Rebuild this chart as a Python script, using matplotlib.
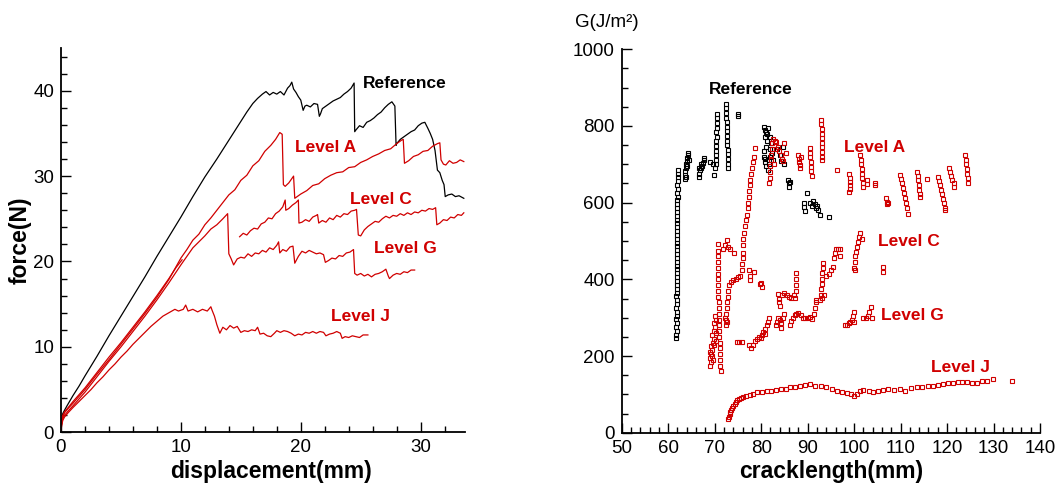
import numpy as np
import matplotlib
matplotlib.use("Agg")
import matplotlib.pyplot as plt
from matplotlib.ticker import MultipleLocator

plt.rcParams['font.family'] = ['Liberation Sans', 'DejaVu Sans']

RED = '#d00000'

###################
    #FORCE CURVES#
###################

# (displacement mm, force N)
ref_fd = [(0, 0), (0.05, 1.2), (0.15, 2.2), (0.3, 2.6), (0.5, 3.1), (1.0, 4.3), (1.5, 5.4), (2.0, 6.6),
          (3.0, 8.9), (4.0, 11.3), (5.0, 13.6), (6.0, 15.9), (7.0, 18.2), (8.0, 20.6), (9.0, 22.9),
          (10.0, 25.2), (11.0, 27.6), (12.0, 29.9), (13.0, 32.0), (14.0, 34.2), (14.5, 35.3), (15.0, 36.4),
          (15.5, 37.5), (16.0, 38.5), (16.4, 39.1), (16.8, 39.6), (17.1, 39.9), (17.4, 39.5), (17.7, 39.8),
          (18.0, 39.6), (18.3, 39.9), (18.6, 39.5), (18.9, 40.3), (19.1, 40.6), (19.25, 41.0), (19.4, 40.2),
          (19.6, 39.8), (19.8, 39.3), (20.0, 38.9), (20.2, 37.7), (20.35, 38.2), (20.5, 38.3), (20.8, 38.1),
          (21.1, 38.5), (21.4, 38.4), (21.55, 37.0), (21.65, 37.3), (21.8, 37.9), (22.1, 38.2), (22.4, 38.5),
          (22.7, 38.8), (23.0, 39.0), (23.3, 39.2), (23.6, 39.6), (23.9, 39.9), (24.2, 40.3), (24.45, 40.9),
          (24.5, 35.2), (24.6, 35.4), (24.9, 35.9), (25.2, 35.7), (25.5, 36.3), (25.8, 36.5), (26.1, 36.8),
          (26.4, 37.2), (26.7, 37.5), (27.0, 38.0), (27.3, 38.4), (27.6, 38.7), (27.85, 38.2), (27.95, 33.6),
          (28.0, 33.8), (28.3, 34.3), (28.6, 34.6), (28.9, 34.9), (29.2, 35.2), (29.5, 35.4), (29.8, 35.9),
          (30.1, 36.2), (30.35, 36.3), (30.6, 35.6), (30.8, 35.0), (31.0, 34.3), (31.2, 33.0), (31.4, 30.7),
          (31.6, 30.4), (31.8, 29.5), (31.95, 29.0), (32.05, 27.6), (32.3, 27.8), (32.6, 27.9), (32.9, 27.6),
          (33.2, 27.7), (33.6, 27.4)]

levA_fd = [(0, 0), (0.05, 1.0), (0.15, 1.8), (0.3, 2.3), (0.6, 2.8), (1.0, 3.4), (1.5, 4.2), (2.0, 5.0),
           (3.0, 6.8), (4.0, 8.5), (5.0, 10.3), (6.0, 12.1), (7.0, 13.9), (8.0, 15.8), (9.0, 17.9),
           (10.0, 20.4), (10.5, 21.4), (11.0, 22.5), (11.5, 23.2), (12.0, 24.3), (12.5, 25.1), (13.0, 26.0),
           (13.5, 26.9), (14.0, 27.8), (14.5, 28.4), (15.0, 29.5), (15.5, 30.1), (16.0, 31.2), (16.5, 31.8),
           (17.0, 32.9), (17.5, 33.6), (17.9, 34.3), (18.25, 35.1), (18.45, 34.9), (18.55, 29.0), (18.7, 28.8),
           (19.0, 29.2), (19.3, 29.8), (19.4, 30.0), (19.5, 27.4), (19.7, 27.6), (20.0, 27.9), (20.5, 28.3),
           (21.0, 28.9), (21.5, 29.1), (22.0, 29.7), (22.5, 30.1), (23.0, 30.4), (23.5, 30.5), (24.0, 31.0),
           (24.5, 31.1), (25.0, 31.6), (25.5, 31.9), (26.0, 32.3), (26.5, 32.6), (27.0, 33.0), (27.5, 33.2),
           (28.0, 33.8), (28.4, 34.2), (28.55, 34.3), (28.65, 31.5), (29.0, 31.8), (29.4, 32.3), (29.8, 32.5),
           (30.2, 32.9), (30.6, 33.0), (31.0, 33.5), (31.4, 33.8), (31.6, 33.9), (31.7, 31.9), (31.9, 31.4),
           (32.1, 31.3), (32.4, 31.8), (32.7, 31.5), (33.0, 31.6), (33.3, 31.9), (33.6, 31.7)]

# loading branch, then the recorded part after the gap
levC_fd = [(0, 0), (0.05, 1.4), (0.15, 2.0), (0.3, 2.4), (0.6, 2.9), (1.0, 3.6), (1.5, 4.4), (2.0, 5.2),
           (3.0, 7.0), (4.0, 8.8), (5.0, 10.5), (6.0, 12.3), (7.0, 14.1), (8.0, 16.0), (9.0, 18.0),
           (9.6, 19.3), (10.1, 20.2), (np.nan, np.nan),
           (14.9, 22.9), (15.2, 23.3), (15.5, 23.1), (15.8, 23.6), (16.1, 23.9), (16.4, 23.8), (16.7, 24.4),
           (17.0, 24.6), (17.3, 25.1), (17.6, 25.0), (17.9, 25.6), (18.2, 25.9), (18.5, 26.4), (18.7, 27.2),
           (18.75, 26.0), (19.0, 26.2), (19.3, 26.6), (19.6, 26.9), (19.8, 27.2), (19.85, 24.5), (20.1, 24.6),
           (20.4, 24.9), (20.7, 24.7), (21.0, 25.2), (21.3, 25.4), (21.4, 25.5), (21.5, 24.5), (21.8, 24.8),
           (22.1, 24.6), (22.4, 25.1), (22.7, 24.9), (23.0, 25.4), (23.3, 25.2), (23.6, 25.6), (23.9, 25.5),
           (24.2, 25.9), (24.5, 26.0), (24.65, 26.1), (24.8, 23.1), (25.0, 23.0), (25.3, 23.7), (25.6, 24.1),
           (25.9, 24.4), (26.2, 24.7), (26.5, 24.6), (26.8, 25.0), (27.1, 25.3), (27.4, 25.1), (27.7, 25.4),
           (28.0, 25.3), (28.3, 25.6), (28.6, 25.4), (28.9, 25.7), (29.2, 25.5), (29.5, 25.8), (29.8, 25.7),
           (30.1, 26.0), (30.4, 25.9), (30.7, 26.2), (31.0, 26.1), (31.25, 26.3), (31.35, 24.3), (31.6, 24.5),
           (31.9, 24.9), (32.2, 24.8), (32.5, 25.2), (32.8, 25.1), (33.1, 25.5), (33.4, 25.4), (33.6, 25.7)]

levG_fd = [(0, 0), (0.05, 0.9), (0.15, 1.6), (0.3, 2.0), (0.6, 2.5), (1.0, 3.1), (1.5, 3.9), (2.0, 4.7),
           (3.0, 6.5), (4.0, 8.3), (5.0, 10.0), (6.0, 11.8), (7.0, 13.6), (8.0, 15.5), (9.0, 17.5),
           (10.0, 19.6), (10.5, 20.6), (11.0, 21.6), (11.5, 22.3), (12.0, 23.0), (12.5, 23.8), (13.0, 24.3),
           (13.5, 25.0), (13.9, 25.6), (14.0, 20.9), (14.2, 20.3), (14.4, 19.6), (14.7, 20.3), (15.0, 20.5),
           (15.3, 20.4), (15.6, 20.9), (15.9, 20.6), (16.2, 21.0), (16.5, 20.9), (16.8, 21.3), (17.1, 21.1),
           (17.4, 21.6), (17.7, 21.4), (18.0, 21.9), (18.15, 22.3), (18.25, 21.0), (18.5, 21.4), (18.8, 21.2),
           (19.1, 21.7), (19.35, 21.8), (19.5, 19.8), (19.8, 20.6), (20.1, 21.2), (20.4, 21.0), (20.7, 21.3),
           (21.0, 21.1), (21.3, 20.9), (21.6, 21.0), (21.9, 20.8), (22.05, 19.9), (22.3, 20.1), (22.6, 20.4),
           (22.9, 20.3), (23.2, 20.7), (23.5, 20.6), (23.8, 21.0), (24.1, 21.1), (24.4, 21.4), (24.5, 18.6),
           (24.7, 18.4), (25.0, 18.6), (25.3, 18.3), (25.6, 18.5), (25.9, 18.2), (26.2, 18.5), (26.5, 18.6),
           (26.8, 18.8), (27.1, 19.1), (27.3, 18.3), (27.4, 18.0), (27.7, 18.4), (28.0, 18.6), (28.3, 18.5),
           (28.6, 18.8), (28.9, 18.7), (29.2, 19.0), (29.5, 19.0)]

levJ_fd = [(0, 0), (0.05, 0.8), (0.15, 1.4), (0.3, 1.8), (0.6, 2.3), (1.0, 2.9), (1.5, 3.6), (2.0, 4.3),
           (2.5, 5.0), (3.0, 5.8), (3.5, 6.5), (4.0, 7.3), (4.5, 8.0), (5.0, 8.8), (5.5, 9.5), (6.0, 10.3),
           (6.5, 11.0), (7.0, 11.7), (7.5, 12.4), (8.0, 13.0), (8.5, 13.6), (9.0, 14.0), (9.5, 14.4),
           (9.8, 14.2), (10.2, 14.4), (10.4, 14.9), (10.6, 14.2), (11.0, 14.4), (11.4, 14.1), (11.8, 14.4),
           (12.2, 14.2), (12.5, 14.7), (12.6, 14.3), (12.8, 13.6), (13.0, 12.6), (13.25, 11.6), (13.5, 12.3),
           (13.8, 12.0), (14.1, 12.5), (14.4, 12.2), (14.7, 12.4), (15.0, 11.7), (15.3, 11.9), (15.6, 11.8),
           (15.9, 12.0), (16.2, 11.9), (16.4, 12.3), (16.6, 11.5), (16.9, 11.6), (17.2, 11.3), (17.5, 11.2),
           (17.8, 11.6), (18.0, 11.9), (18.3, 11.7), (18.6, 11.9), (18.9, 11.8), (19.2, 11.6), (19.5, 11.3),
           (19.8, 11.5), (20.1, 11.4), (20.4, 11.7), (20.7, 11.6), (21.0, 11.8), (21.3, 11.6), (21.6, 11.8),
           (21.9, 11.7), (22.1, 11.3), (22.4, 11.5), (22.7, 11.6), (23.0, 11.8), (23.3, 11.6), (23.45, 11.0),
           (23.7, 11.2), (24.0, 11.1), (24.3, 11.3), (24.6, 11.2), (24.9, 11.1), (25.2, 11.4), (25.6, 11.4)]

#######################
    #R-CURVE POINTS#
#######################

# (crack length mm, G J/m2)
ref_g = [(61.7, 246), (61.7, 255), (61.8, 265), (61.7, 275), (61.8, 285), (61.7, 296), (61.8, 305),
         (61.8, 315), (61.7, 326), (61.8, 335), (61.8, 346), (61.7, 356), (61.8, 365), (61.9, 376),
         (61.8, 386), (61.8, 396), (61.9, 405), (61.8, 416), (61.8, 426), (61.9, 436), (61.8, 446),
         (61.9, 456), (61.8, 466), (61.9, 476), (61.9, 486), (61.8, 496), (61.9, 506), (62.0, 516),
         (61.9, 526), (61.9, 536), (62.0, 546), (61.9, 556), (62.0, 566), (62.0, 576), (61.9, 586),
         (62.0, 596), (62.0, 606), (62.1, 616), (62.0, 626), (62.1, 636), (62.0, 646), (62.1, 656),
         (62.1, 666), (62.1, 676), (62.1, 684),
         (63.6, 662), (63.7, 672), (63.6, 683), (63.8, 690), (63.9, 700), (64.0, 708), (64.1, 716),
         (64.2, 724), (64.3, 730), (64.0, 695), (64.4, 712), (63.8, 668),
         (66.6, 668), (66.7, 676), (66.8, 684), (67.0, 690), (67.2, 696), (67.4, 704), (67.6, 710),
         (67.8, 716), (67.0, 700), (66.7, 690),
         (69.0, 707), (69.9, 672), (69.6, 700),
         (70.1, 690), (70.2, 700), (70.2, 712), (70.3, 724), (70.2, 736), (70.3, 748), (70.3, 760),
         (70.4, 772), (70.3, 784), (70.4, 796), (70.4, 808), (70.4, 820), (70.4, 832),
         (72.9, 690), (72.9, 702), (72.8, 714), (72.8, 726), (72.8, 738), (72.7, 750), (72.7, 762),
         (72.7, 774), (72.6, 786), (72.6, 798), (72.6, 810), (72.5, 822), (72.5, 834), (72.5, 846),
         (72.5, 857), (75.0, 831), (75.1, 826),
         (80.6, 798), (80.8, 790), (81.0, 785), (80.9, 772), (81.2, 780), (81.5, 795), (81.3, 760),
         (81.0, 745), (80.7, 735), (80.6, 720), (80.8, 705), (81.1, 695), (81.4, 684), (81.6, 700),
         (81.8, 720), (82.0, 740), (82.2, 755), (81.9, 770), (82.3, 730), (82.6, 712), (80.9, 715),
         (83.5, 740), (84.0, 725), (84.3, 708), (84.6, 745), (85.0, 700), (85.7, 660), (86.0, 650),
         (86.3, 655), (85.9, 642), (89.8, 624), (89.2, 600), (89.3, 588), (89.5, 578), (90.6, 598),
         (90.9, 590), (91.2, 605), (91.5, 596), (91.8, 585), (92.0, 592), (92.3, 580), (92.7, 568),
         (94.7, 562)]

levA_g = [(69.0, 175), (69.2, 185), (69.0, 195), (69.3, 205), (69.5, 215), (69.2, 225), (69.6, 235),
          (69.8, 245), (69.5, 255), (69.9, 265), (70.1, 275), (69.8, 285), (70.2, 295), (70.0, 305),
          (69.4, 200), (69.7, 190), (69.9, 230), (70.2, 260), (70.3, 240), (69.1, 210),
          (71.3, 160), (71.2, 175), (71.2, 190), (71.1, 205), (71.1, 220), (71.1, 235), (71.0, 250),
          (71.0, 265), (71.0, 280), (70.9, 295), (70.9, 310), (70.9, 325), (70.9, 340), (70.8, 355),
          (70.8, 370), (70.8, 385), (70.8, 400), (70.7, 415), (70.7, 430), (70.7, 445), (70.7, 460),
          (70.7, 475), (70.7, 492),
          (71.8, 480), (72.3, 490), (72.6, 503), (72.9, 485), (73.2, 478), (74.2, 468),
          (72.4, 280), (72.5, 295), (72.5, 310), (72.6, 325), (72.7, 340), (72.8, 355), (72.9, 370),
          (73.0, 385), (72.3, 300), (72.6, 290),
          (73.5, 392), (74.0, 398), (74.5, 402), (75.0, 405), (75.5, 410), (75.8, 425), (75.9, 440),
          (76.0, 455), (76.1, 470), (76.2, 490), (76.2, 505), (76.3, 520), (76.6, 540), (76.8, 555),
          (76.9, 568), (77.1, 585), (77.2, 600), (77.3, 615), (77.4, 630), (77.5, 645), (77.6, 660),
          (77.8, 675), (78.0, 690), (78.2, 705), (78.4, 720), (78.6, 742),
          (81.7, 650), (81.8, 665), (81.9, 680), (82.0, 695), (82.1, 710), (82.2, 725), (82.3, 740),
          (82.4, 755), (82.6, 765), (83.0, 762), (83.3, 758), (83.6, 745), (83.9, 735), (84.2, 725),
          (84.4, 715), (84.6, 708), (85.0, 755), (85.3, 730), (83.2, 740), (82.8, 700),
          (88.0, 724), (88.1, 715), (88.2, 706), (88.3, 698), (88.4, 690), (88.6, 718),
          (90.5, 742), (90.6, 730), (90.6, 718), (90.7, 706), (90.7, 694), (90.8, 682), (90.9, 670),
          (92.9, 816), (92.9, 804), (93.0, 792), (93.0, 780), (93.0, 768), (93.1, 756), (93.1, 744),
          (93.1, 732), (93.2, 720), (93.2, 711), (96.3, 685),
          (99.0, 675), (99.1, 665), (99.1, 655), (99.2, 645), (99.2, 635), (99.0, 629),
          (101.3, 724), (101.4, 712), (101.5, 700), (101.6, 688), (101.7, 676), (101.8, 664),
          (101.9, 652), (102.0, 640), (102.7, 659), (102.8, 648), (104.5, 652), (104.6, 646),
          (106.9, 611), (107.0, 603), (107.1, 596), (107.4, 600),
          (109.9, 672), (110.1, 662), (110.4, 650), (110.6, 638), (110.8, 625), (111.0, 612),
          (111.2, 598), (111.4, 585), (111.6, 570),
          (113.6, 681), (113.7, 670), (113.8, 658), (113.9, 646), (114.0, 634), (114.1, 622),
          (114.2, 616), (115.6, 663),
          (118.1, 668), (118.3, 656), (118.5, 645), (118.7, 634), (118.9, 622), (119.1, 610),
          (119.3, 598), (119.5, 586), (119.6, 580),
          (120.4, 690), (120.6, 680), (120.9, 670), (121.1, 660), (121.4, 650), (121.6, 640),
          (123.9, 724), (124.0, 712), (124.1, 700), (124.2, 688), (124.3, 676), (124.4, 664),
          (124.6, 652)]

levC_g = [(77.3, 424), (77.5, 410), (77.6, 398), (79.9, 391), (80.1, 381), (79.8, 388), (78.5, 418),
          (83.7, 363), (83.8, 350), (83.8, 340), (84.0, 330), (84.5, 358), (85.0, 365), (85.5, 360),
          (86.0, 355), (86.5, 352), (87.0, 358), (87.4, 370), (87.4, 385), (87.5, 400), (87.5, 416),
          (87.2, 352),
          (92.7, 346), (92.8, 360), (92.9, 374), (93.0, 388), (93.1, 402), (93.2, 416), (93.3, 430),
          (93.4, 442), (93.6, 360), (93.0, 352),
          (94.0, 410), (94.5, 415), (95.0, 425), (95.4, 433), (95.6, 455), (95.8, 470), (96.2, 478),
          (96.6, 480), (97.0, 478), (97.0, 462),
          (99.9, 430), (100.1, 445), (100.3, 460), (100.5, 472), (100.7, 485), (100.9, 498),
          (101.1, 510), (101.3, 520), (100.2, 425), (101.6, 505),
          (106.3, 433), (106.3, 420)]

levG_g = [(74.7, 237), (75.2, 236), (75.8, 237), (77.3, 228), (77.8, 222), (78.3, 230), (78.7, 238),
          (79.2, 244), (79.6, 250), (80.1, 255), (80.5, 262), (80.9, 270), (81.2, 280), (81.4, 290),
          (81.6, 300), (80.8, 258), (79.9, 246),
          (83.1, 280), (83.4, 290), (83.7, 300), (84.0, 295), (84.3, 285), (84.6, 300), (85.0, 310),
          (84.2, 272),
          (86.2, 280), (86.5, 292), (86.8, 300), (87.2, 306), (87.6, 310), (88.0, 312), (88.5, 306),
          (89.0, 300), (89.5, 298), (90.0, 300), (90.5, 302), (91.0, 296), (91.3, 310), (91.5, 325),
          (91.7, 340), (91.9, 346),
          (98.0, 280), (98.4, 282), (98.8, 285), (99.2, 288), (99.5, 295), (99.7, 305), (99.9, 316),
          (100.0, 290),
          (102.0, 300), (102.5, 298), (103.0, 305), (103.3, 315), (103.6, 329), (103.8, 300)]

levJ_g = [(72.9, 35), (73.0, 42), (73.2, 48), (73.4, 55), (73.6, 60), (73.8, 65), (74.0, 70), (74.3, 75),
          (74.6, 80), (74.9, 84), (75.3, 88), (75.7, 91), (76.2, 94), (76.8, 97), (77.5, 99), (78.3, 102),
          (79.2, 105), (80.2, 107), (81.2, 108), (82.2, 110), (83.3, 112), (84.3, 113), (85.3, 115),
          (86.3, 118), (87.3, 120), (88.3, 123), (89.4, 124), (90.5, 126), (91.6, 122), (92.8, 121),
          (94.0, 118), (95.2, 115), (96.3, 110), (97.4, 106), (98.4, 103), (99.4, 100), (100.0, 96),
          (100.6, 101), (101.3, 108), (102.0, 111), (103.1, 108), (104.1, 106), (105.2, 109),
          (106.3, 111), (107.4, 114), (108.6, 112), (109.9, 113), (111.0, 110), (112.2, 116),
          (113.5, 120), (114.6, 118), (115.8, 121), (117.0, 122), (118.1, 125), (119.2, 127),
          (120.3, 129), (121.3, 130), (122.3, 131), (123.2, 133), (124.2, 133), (125.3, 130),
          (126.4, 129), (127.5, 134), (128.6, 136), (129.9, 139), (133.9, 136)]

#################
    #PLOTS#
#################

fig = plt.figure(figsize=(10.64, 4.87), dpi=100)
ax1 = fig.add_axes([0.05733, 0.11232, 0.37970, 0.78912])
ax2 = fig.add_axes([0.58431, 0.11150, 0.39314, 0.78727])


def style_axes(ax):
    for side in ['top', 'right']:
        ax.spines[side].set_visible(False)
    for side in ['left', 'bottom']:
        ax.spines[side].set_linewidth(1.3)
    ax.tick_params(which='both', direction='in', top=False, right=False,
                   labelsize=13.5, width=1.0, pad=5)
    ax.tick_params(which='major', length=7)
    ax.tick_params(which='minor', length=4)


# force vs displacement
for data, col in [(ref_fd, 'black'), (levA_fd, RED), (levC_fd, RED), (levG_fd, RED), (levJ_fd, RED)]:
    arr = np.array(data, dtype=float)
    ax1.plot(arr[:, 0], arr[:, 1], color=col, lw=0.9)

ax1.set_xlim(0, 33.7)
ax1.set_ylim(0, 45)
ax1.xaxis.set_major_locator(MultipleLocator(10))
ax1.xaxis.set_minor_locator(MultipleLocator(2))
ax1.yaxis.set_major_locator(MultipleLocator(10))
ax1.yaxis.set_minor_locator(MultipleLocator(2))
style_axes(ax1)

ax1.set_xlabel('displacement(mm)', fontsize=16.5, fontweight='bold')
ax1.xaxis.set_label_coords(0.519, -0.1025)
ax1.xaxis.label.set_va('center')
ax1.set_ylabel('force(N)', fontsize=16.5, fontweight='bold')
ax1.yaxis.set_label_coords(-0.1015, 0.5)
ax1.yaxis.label.set_va('center')

lbl = dict(fontsize=12.5, fontweight='bold', ha='left', va='center')
ax1.text(25.2, 40.8, 'Reference', color='black', **lbl)
ax1.text(19.5, 33.4, 'Level A', color=RED, **lbl)
ax1.text(24.1, 27.3, 'Level C', color=RED, **lbl)
ax1.text(26.1, 21.5, 'Level G', color=RED, **lbl)
ax1.text(22.5, 13.6, 'Level J', color=RED, **lbl)

# energy release rate vs crack length
for data, col in [(ref_g, 'black'), (levA_g, RED), (levC_g, RED), (levG_g, RED), (levJ_g, RED)]:
    arr = np.array(data, dtype=float)
    ax2.plot(arr[:, 0], arr[:, 1], ls='none', marker='s', ms=2.2, mfc='none',
             mec=col, mew=0.8)

ax2.set_xlim(50, 140)
ax2.set_ylim(0, 1000)
ax2.xaxis.set_major_locator(MultipleLocator(10))
ax2.xaxis.set_minor_locator(MultipleLocator(2))
ax2.yaxis.set_major_locator(MultipleLocator(200))
ax2.yaxis.set_minor_locator(MultipleLocator(50))
style_axes(ax2)

ax2.set_xlabel('cracklength(mm)', fontsize=16.5, fontweight='bold')
ax2.xaxis.set_label_coords(0.5, -0.1017)
ax2.xaxis.label.set_va('center')
fig.text(575 / 1064, 1 - 22.7 / 487, 'G(J/m²)', fontsize=13.5, ha='left', va='center')

ax2.text(68.65, 894, 'Reference', color='black', **lbl)
ax2.text(97.8, 744, 'Level A', color=RED, **lbl)
ax2.text(105.2, 499, 'Level C', color=RED, **lbl)
ax2.text(105.7, 306, 'Level G', color=RED, **lbl)
ax2.text(116.5, 169, 'Level J', color=RED, **lbl)

fig.savefig('out.png', dpi=100)
